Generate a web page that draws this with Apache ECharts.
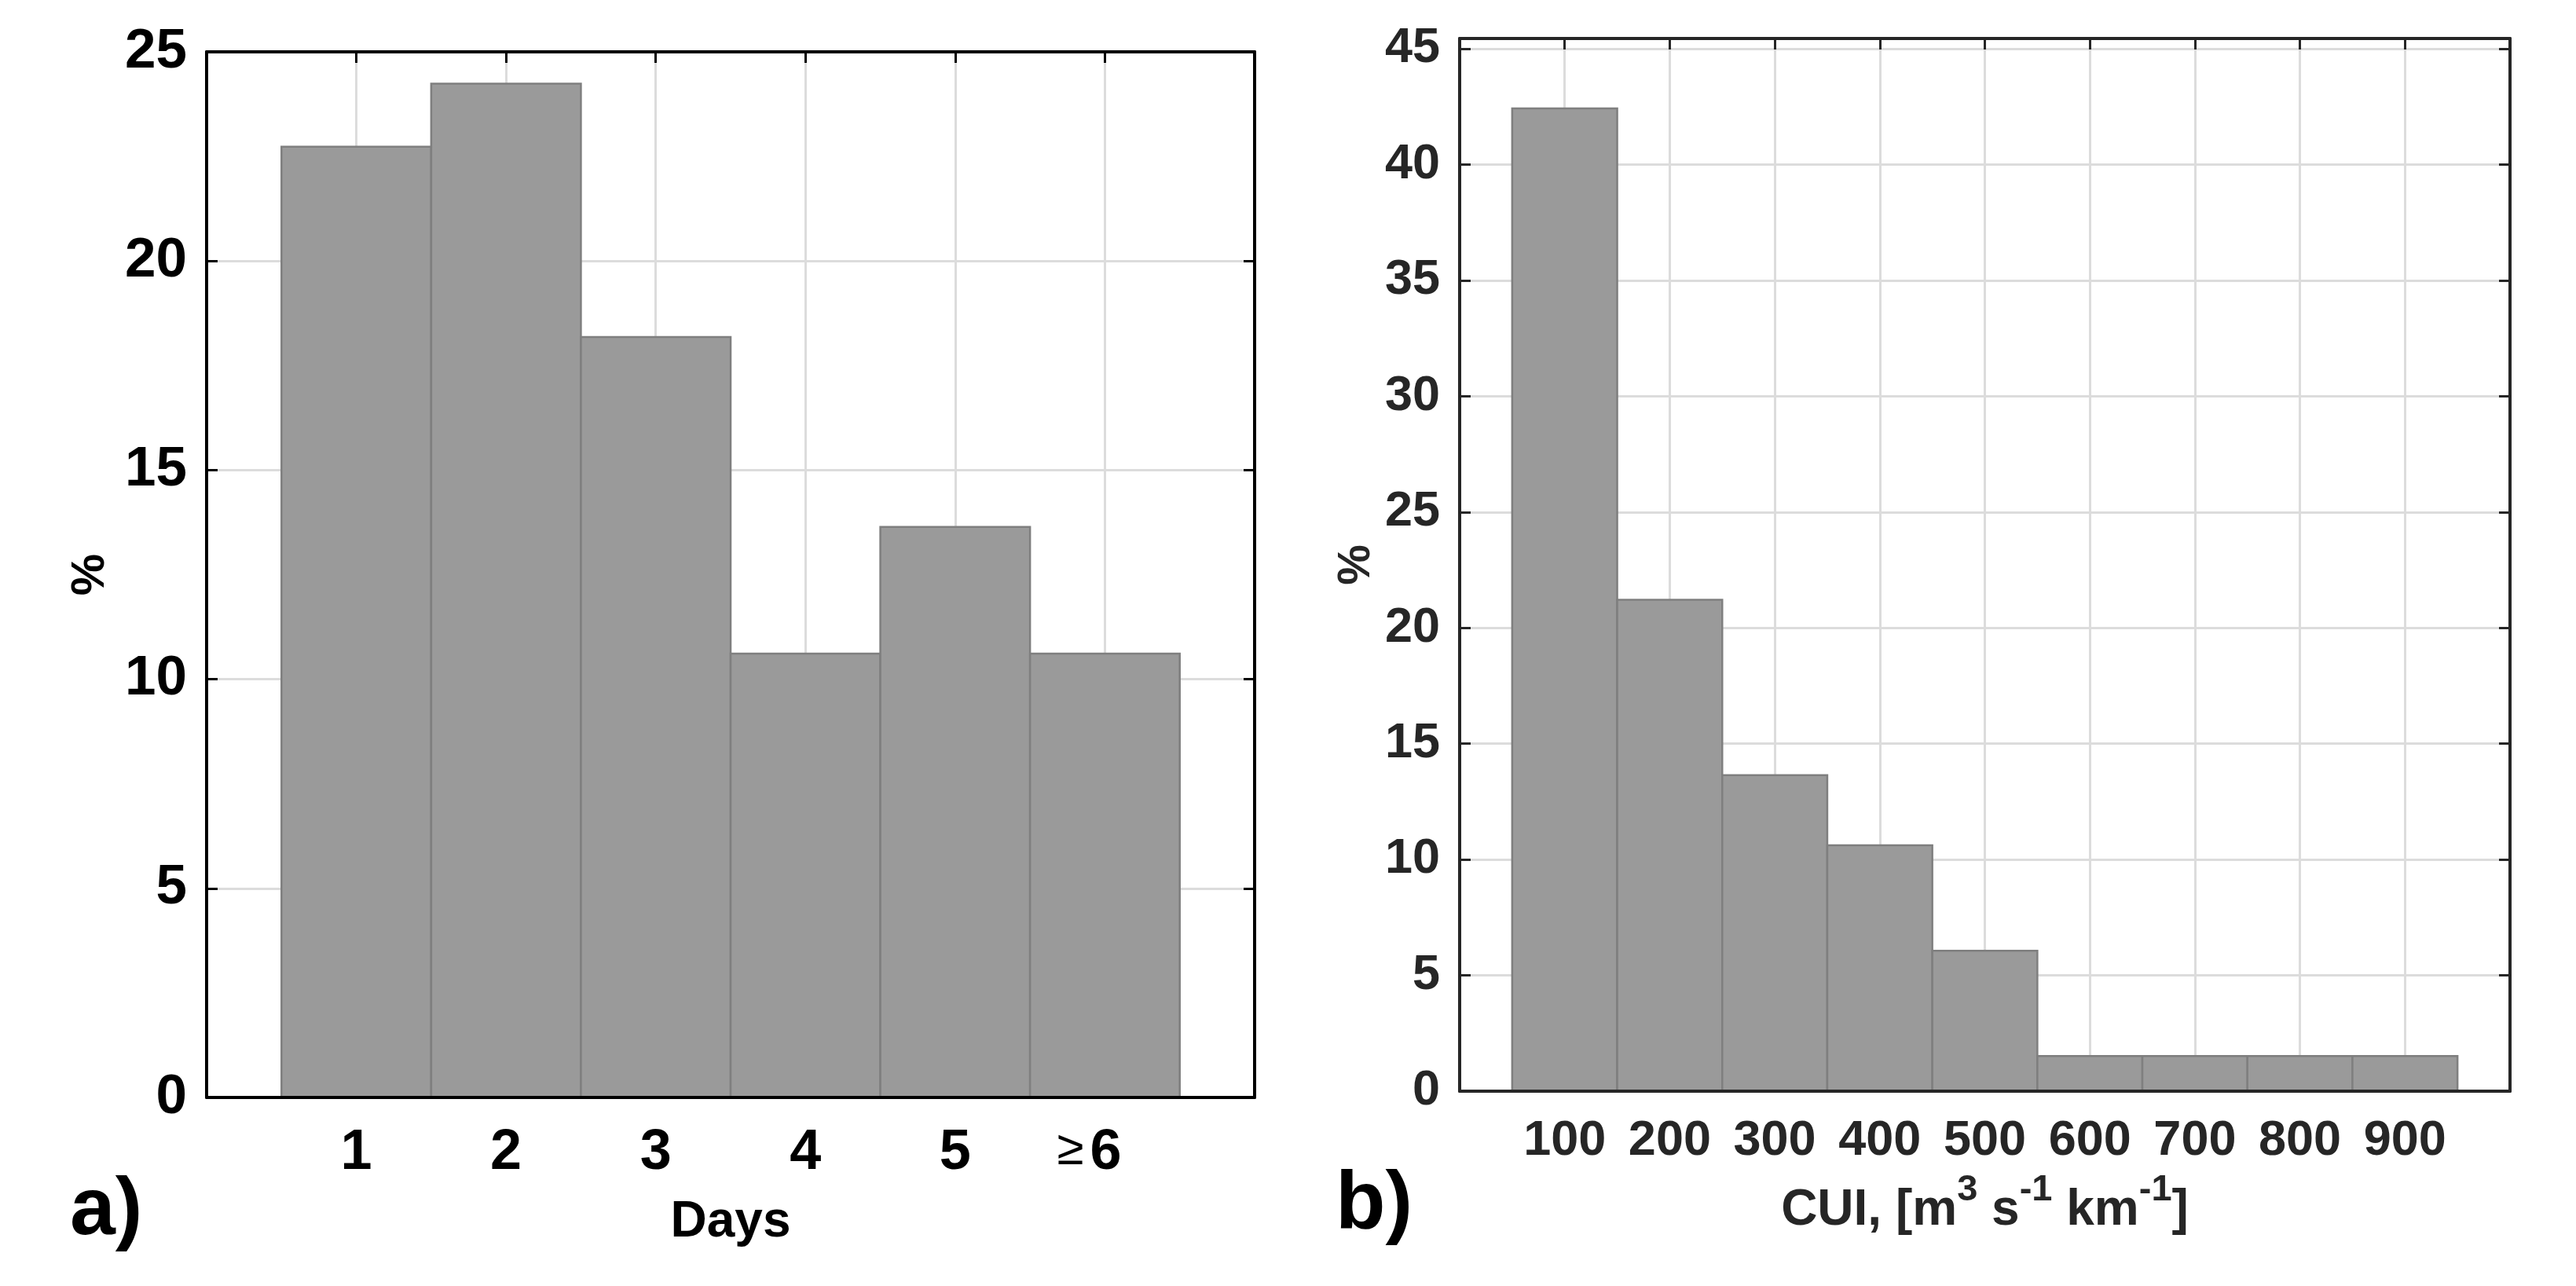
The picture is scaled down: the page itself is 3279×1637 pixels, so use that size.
<!DOCTYPE html>
<html>
<head>
<meta charset="utf-8">
<script src="https://cdn.jsdelivr.net/npm/echarts@6/dist/echarts.min.js"></script>
<style>
html,body{margin:0;padding:0;background:#fff;}
#chart{width:3279px;height:1637px;}
</style>
</head>
<body>
<div id="chart"></div>
<script>
// ---- Panel a) : duration in days ----
const dayBins = [1, 2, 3, 4, 5, 6];
const dayTickLabels = ['1', '2', '3', '4', '5', '≥6'];
const dayPercent = [22.73, 24.24, 18.18, 10.61, 13.64, 10.61];
const dayBinWidth = 1;

// ---- Panel b) : CUI ----
const cuiBins = [100, 200, 300, 400, 500, 600, 700, 800, 900];
const cuiTickLabels = ['100', '200', '300', '400', '500', '600', '700', '800', '900'];
const cuiPercent = [42.42, 21.21, 13.64, 10.61, 6.06, 1.52, 1.52, 1.52, 1.52];
const cuiBinWidth = 100;

const FONT = '"Liberation Sans", Arial, sans-serif';
const BAR_FILL = '#9a9a9a';
const BAR_EDGE = '#7f7f7f';
const GRID_COLOR = '#dcdcdc';

function histItem(binWidth) {
  return function (params, api) {
    const x = api.value(0), y = api.value(1);
    const p0 = api.coord([x - binWidth / 2, y]);
    const p1 = api.coord([x + binWidth / 2, 0]);
    return {
      type: 'rect',
      shape: { x: p0[0], y: p0[1], width: p1[0] - p0[0], height: p1[1] - p0[1] },
      style: { fill: BAR_FILL, stroke: BAR_EDGE, lineWidth: 2.5 }
    };
  };
}

function frameAxis(type, gridIndex, position, min, max, interval, color, extra) {
  return Object.assign({
    type: 'value', gridIndex, position, min, max, interval,
    z: 0,
    axisLine: { show: true, onZero: false, lineStyle: { color, width: 4 } },
    axisTick: { show: true, inside: true, length: 14, lineStyle: { color, width: 3 } },
    axisLabel: { show: false },
    splitLine: { show: true, lineStyle: { color: GRID_COLOR, width: 3 } }
  }, extra || {});
}

const chart = echarts.init(document.getElementById('chart'), null, { renderer: 'canvas' });

const option = {
  animation: false,
  backgroundColor: '#ffffff',
  grid: [
    { left: 263, top: 66, width: 1334, height: 1331, outerBoundsMode: 'none', containLabel: false },
    { left: 1858, top: 49, width: 1337, height: 1340, outerBoundsMode: 'none', containLabel: false }
  ],
  xAxis: [
    {
      type: 'value', gridIndex: 0, position: 'bottom', min: 0, max: 7, interval: 1, z: 10,
      axisLine: { show: true, onZero: false, lineStyle: { color: '#000', width: 4 } },
      axisTick: { show: false },
      splitLine: { show: false },
      axisLabel: {
        show: true, margin: 35, color: '#000', fontFamily: FONT, fontWeight: 'bold', fontSize: 72,
        formatter: function (v) {
          const i = dayBins.indexOf(v);
          if (i < 0) return '';
          const t = dayTickLabels[i];
          if (t.charAt(0) === '≥') return '{ge|≥}{d|' + t.slice(1) + '}{sp| }';
          return t;
        },
        rich: {
          ge: { fontFamily: FONT, fontSize: 62, fontWeight: 'normal', color: '#000', padding: [0, 8, 6, 0] },
          d: { fontFamily: FONT, fontSize: 72, fontWeight: 'bold', color: '#000' },
          sp: { width: 40, fontSize: 20 }
        }
      },
      name: 'Days', nameLocation: 'middle', nameGap: 127,
      nameTextStyle: { color: '#000', fontFamily: FONT, fontWeight: 'bold', fontSize: 64 }
    },
    frameAxis('x', 0, 'top', 0, 7, 1, '#000'),
    {
      type: 'value', gridIndex: 1, position: 'bottom', min: 0, max: 1000, interval: 100, z: 10,
      axisLine: { show: true, onZero: false, lineStyle: { color: '#262626', width: 4 } },
      axisTick: { show: false },
      splitLine: { show: false },
      axisLabel: {
        show: true, margin: 32, color: '#262626', fontFamily: FONT, fontWeight: 'bold', fontSize: 63,
        formatter: function (v) {
          const i = cuiBins.indexOf(v);
          return i < 0 ? '' : cuiTickLabels[i];
        }
      },
      name: '{n|CUI, [m}{s|3}{n| s}{s|-1}{n| km}{s|-1}{n|]}',
      nameLocation: 'middle', nameGap: 120,
      nameTextStyle: {
        color: '#262626', fontFamily: FONT, fontWeight: 'bold', fontSize: 64,
        rich: {
          n: { color: '#262626', fontFamily: FONT, fontWeight: 'bold', fontSize: 64, lineHeight: 64 },
          s: { color: '#262626', fontFamily: FONT, fontWeight: 'bold', fontSize: 47, lineHeight: 47, padding: [0, 0, 52, 0] }
        }
      }
    },
    frameAxis('x', 1, 'top', 0, 1000, 100, '#262626')
  ],
  yAxis: [
    {
      type: 'value', gridIndex: 0, position: 'left', min: 0, max: 25, interval: 5, z: 10,
      axisLine: { show: true, onZero: false, lineStyle: { color: '#000', width: 4 } },
      axisTick: { show: true, inside: true, length: 14, lineStyle: { color: '#000', width: 3 } },
      splitLine: { show: false },
      axisLabel: { show: true, margin: 25, color: '#000', fontFamily: FONT, fontWeight: 'bold', fontSize: 71 },
      name: '%', nameLocation: 'middle', nameGap: 118, nameRotate: 90,
      nameTextStyle: { color: '#000', fontFamily: FONT, fontWeight: 'bold', fontSize: 60 }
    },
    frameAxis('y', 0, 'right', 0, 25, 5, '#000'),
    {
      type: 'value', gridIndex: 1, position: 'left', min: 0, max: 45.44, interval: 5, z: 10,
      axisLine: { show: true, onZero: false, lineStyle: { color: '#262626', width: 4 } },
      axisTick: { show: true, inside: true, length: 14, lineStyle: { color: '#262626', width: 3 } },
      splitLine: { show: false },
      axisLabel: {
        show: true, margin: 25, color: '#262626', fontFamily: FONT, fontWeight: 'bold', fontSize: 63,
        formatter: function (v) { return (Math.abs(v / 5 - Math.round(v / 5)) < 1e-6) ? String(v) : ''; }
      },
      name: '%', nameLocation: 'middle', nameGap: 102, nameRotate: 90,
      nameTextStyle: { color: '#262626', fontFamily: FONT, fontWeight: 'bold', fontSize: 58 }
    },
    frameAxis('y', 1, 'right', 0, 45.44, 5, '#262626')
  ],
  series: [
    {
      type: 'custom', xAxisIndex: 0, yAxisIndex: 0, z: 5,
      renderItem: histItem(dayBinWidth),
      encode: { x: 0, y: 1 },
      data: dayBins.map((b, i) => [b, dayPercent[i]])
    },
    {
      type: 'custom', xAxisIndex: 2, yAxisIndex: 2, z: 5,
      renderItem: histItem(cuiBinWidth),
      encode: { x: 0, y: 1 },
      data: cuiBins.map((b, i) => [b, cuiPercent[i]])
    }
  ],
  graphic: [
    { type: 'text', left: 89, top: 1490, z: 100,
      style: { text: 'a)', font: 'bold 104px ' + FONT, fill: '#000' } },
    { type: 'text', left: 1700, top: 1482, z: 100,
      style: { text: 'b)', font: 'bold 104px ' + FONT, fill: '#000' } }
  ]
};

chart.setOption(option);
</script>
</body>
</html>
